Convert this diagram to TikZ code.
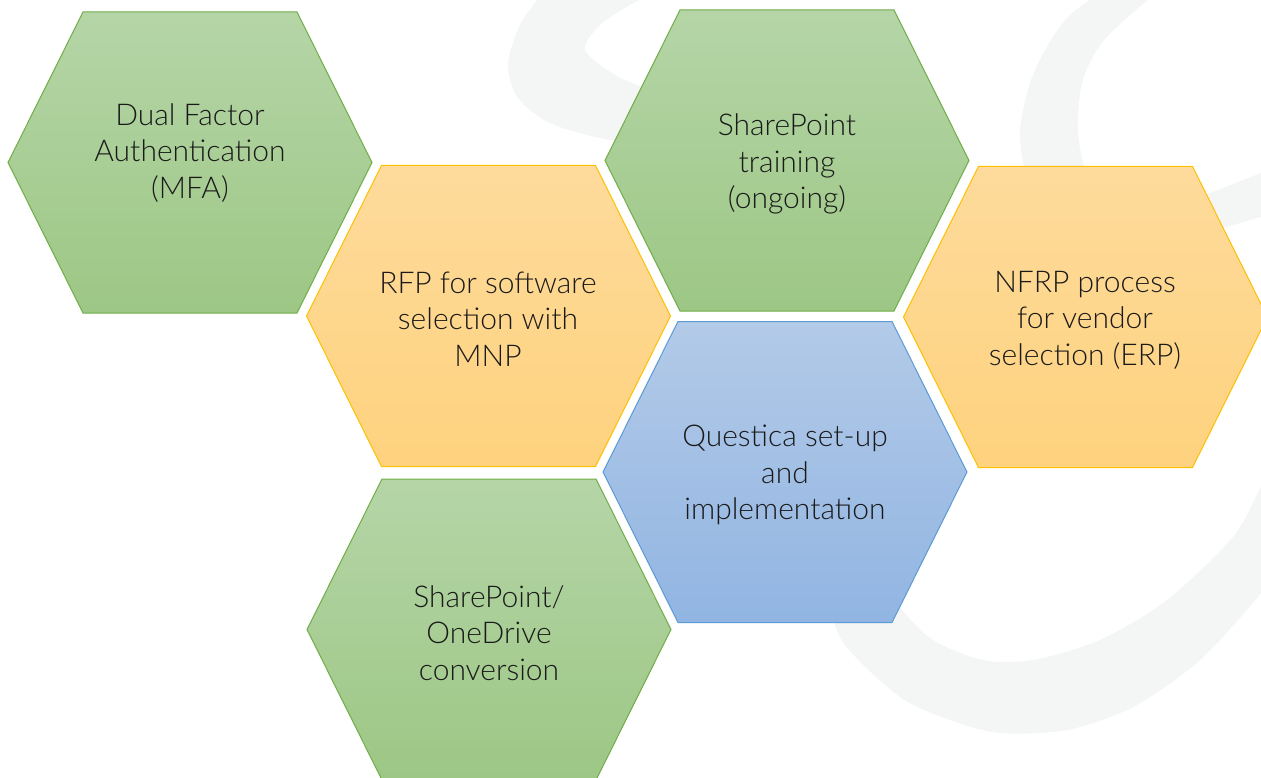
\documentclass[tikz,border=0pt]{standalone}
\usepackage{fontspec}
\setmainfont{Lato Light}
\definecolor{greentop}{HTML}{B5D5A7}
\definecolor{greenbot}{HTML}{9DC785}
\definecolor{greenline}{HTML}{70AD47}
\definecolor{orangetop}{HTML}{FEDB9C}
\definecolor{orangebot}{HTML}{FED27E}
\definecolor{orangeline}{HTML}{FFC000}
\definecolor{bluetop}{HTML}{B3CAE8}
\definecolor{bluebot}{HTML}{91B5E2}
\definecolor{blueline}{HTML}{5B9BD5}
\definecolor{wm}{HTML}{F4F5F5}
\definecolor{txt}{HTML}{1A1A1A}
\newcommand\hexcell[3]{%
  \path[#3] (#1-107,#2-150.5) -- (#1+107,#2-150.5) -- (#1+182,#2) -- (#1+107,#2+150.5) -- (#1-107,#2+150.5) -- (#1-182,#2) -- cycle;}
\begin{document}
\begin{tikzpicture}[x=1pt,y=-1pt,
  greenhex/.style={draw=greenline, line width=1pt, top color=greentop, bottom color=greenbot},
  orangehex/.style={draw=orangeline, line width=1pt, top color=orangetop, bottom color=orangebot},
  bluehex/.style={draw=blueline, line width=1pt, top color=bluetop, bottom color=bluebot},
  lbl/.style={align=center, text=txt, inner sep=0pt, font=\fontsize{30}{36.5}\selectfont},
  watermark/.style={fill=wm, draw=none}]
\path[use as bounding box] (0,0) rectangle (1261,778);
\clip (0,0) rectangle (1261,778);
\fill[white] (0,0) rectangle (1261,778);
% faint background watermark
\path[watermark] plot[smooth] coordinates {(815,560) (827,600) (845,645) (900,697) (950,720) (1000,733) (1067,730) (1133,707) (1200,660) (1261,593) (1290,550)}
  -- plot[smooth] coordinates {(1290,440) (1261,487) (1233,537) (1167,600) (1100,640) (1033,660) (983,660) (933,640) (900,607) (880,570)} -- cycle;
\path[watermark] plot[smooth] coordinates {(1105,-10) (1070,15) (1048,45) (1030,83) (1020,133) (1027,180) (1045,230)}
  -- plot[smooth] coordinates {(1100,230) (1087,180) (1078,133) (1082,83) (1100,45) (1130,15) (1160,-10)} -- cycle;
\path[watermark] plot[smooth] coordinates {(1150,215) (1210,193) (1261,173) (1280,165)}
  -- plot[smooth] coordinates {(1280,213) (1261,217) (1227,227) (1160,250)} -- cycle;
\path[watermark] plot[smooth] coordinates {(545,-10) (520,25) (508,65) (518,98) (550,123) (600,138) (650,145)}
  -- plot[smooth] coordinates {(650,90) (615,75) (585,50) (600,25) (630,5) (660,-10)} -- cycle;
% hexagons
\hexcell{190}{162.5}{greenhex}
\hexcell{488.5}{316}{orangehex}
\hexcell{787}{160.5}{greenhex}
\hexcell{1085.5}{317}{orangehex}
\hexcell{785}{472}{bluehex}
\hexcell{489}{629.5}{greenhex}
% labels
\node[lbl] (mfa) at (190,153) {Dual Factor\\Authentication\\(MFA)};
\node[lbl] (rfp) at (488,319) {RFP for software\\selection with\\MNP};
\node[lbl] (sptrain) at (787,164) {SharePoint\\training\\(ongoing)};
\node[lbl] (nfrp) at (1085,320) {NFRP process\\for vendor\\selection (ERP)};
\node[lbl] (questica) at (785,475) {Questica set-up\\and\\implementation};
\node[lbl] (spod) at (489,633) {SharePoint/\\OneDrive\\conversion};
\end{tikzpicture}
\end{document}
